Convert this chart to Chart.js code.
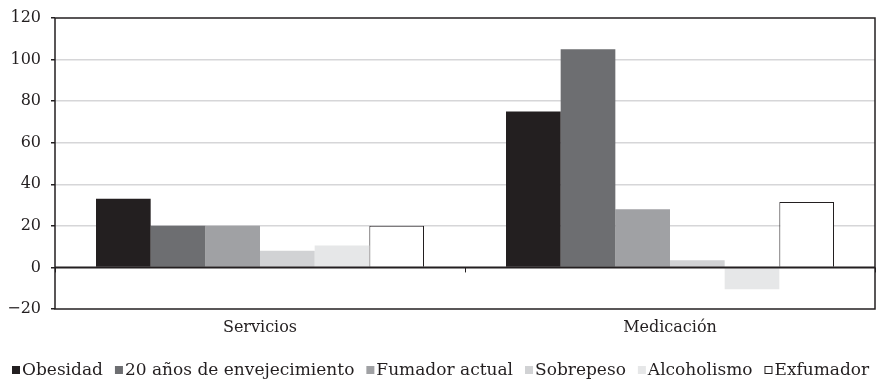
<!DOCTYPE html>
<html>
<head>
<meta charset="utf-8">
<script src="https://cdn.jsdelivr.net/npm/chart.js@4.4.0/dist/chart.umd.min.js"></script>
<style>
  html, body { margin: 0; padding: 0; background: #fff; }
  #wrap { width: 879px; height: 380px; }
</style>
</head>
<body>
<div id="wrap"><canvas id="chart"></canvas></div>
<script>
// data
const categories = ['Servicios', 'Medicación'];
const seriesNames = ['Obesidad', '20 años de envejecimiento', 'Fumador actual', 'Sobrepeso', 'Alcoholismo', 'Exfumador'];
const obesidad = [33, 75];
const envejecimiento = [20, 105];
const fumadorActual = [20, 28];
const sobrepeso = [8, 3.5];
const alcoholismo = [10.5, -10.5];
const exfumador = [20, 31.5];
const yTicks = [-20, 0, 20, 40, 60, 80, 100, 120];

const fills = ['#231f20', '#6d6e71', '#a0a1a4', '#d1d2d4', '#e6e7e8', '#ffffff'];
const seriesValues = [obesidad, envejecimiento, fumadorActual, sobrepeso, alcoholismo, exfumador];

const ink = '#231f20';
const serif = "'DejaVu Serif', 'Liberation Serif', serif";

// frame, zero line and category ticks drawn over the bars
const framePlugin = {
    id: 'frame',
    afterDatasetsDraw(chart) {
        const { ctx, chartArea: a, scales } = chart;
        const y0 = scales.y.getPixelForValue(0);
        ctx.save();
        ctx.strokeStyle = ink;
        ctx.lineWidth = 2;
        ctx.beginPath();
        ctx.moveTo(a.left, y0);
        ctx.lineTo(a.right, y0);
        ctx.stroke();
        // ticks at category boundaries
        ctx.lineWidth = 1;
        const step = (a.right - a.left) / categories.length;
        for (let i = 0; i <= categories.length; i++) {
            const x = Math.round(a.left + step * i) + 0.5;
            ctx.beginPath();
            ctx.moveTo(x, y0);
            ctx.lineTo(x, y0 + 5);
            ctx.stroke();
        }
        ctx.lineWidth = 1.5;
        ctx.strokeRect(a.left, a.top, a.right - a.left, a.bottom - a.top);
        ctx.restore();
    }
};

// legend with tight box-to-text spacing, as in the original
const legendPlugin = {
    id: 'tightLegend',
    afterDraw(chart) {
        const { ctx } = chart;
        const box = 8, boxGap = 2, itemGap = 12;
        ctx.save();
        ctx.font = '17px ' + serif;
        ctx.textBaseline = 'middle';
        const items = chart.data.datasets.map(ds => ({ ds, w: ctx.measureText(ds.label).width }));
        const total = items.reduce((s, it) => s + box + boxGap + it.w, 0) + itemGap * (items.length - 1);
        let x = Math.round(441 - total / 2);
        const y = 370;
        items.forEach(({ ds, w }) => {
            ctx.fillStyle = ds.backgroundColor;
            ctx.fillRect(x, y - box / 2, box, box);
            if (ds.borderWidth) {
                ctx.strokeStyle = ds.borderColor;
                ctx.lineWidth = 1;
                ctx.strokeRect(x + 0.5, y - box / 2 + 0.5, box - 1, box - 1);
            }
            x += box + boxGap;
            ctx.fillStyle = ink;
            ctx.fillText(ds.label, x, y + 1);
            x += w + itemGap;
        });
        ctx.restore();
    }
};

const ctx = document.getElementById('chart').getContext('2d');
new Chart(ctx, {
    type: 'bar',
    data: {
        labels: categories,
        datasets: seriesNames.map((name, i) => ({
            label: name,
            data: seriesValues[i],
            backgroundColor: fills[i],
            borderColor: i === 5 ? ink : fills[i],
            borderWidth: i === 5 ? 1 : 0,
            categoryPercentage: 0.8,
            barPercentage: 1.0
        }))
    },
    options: {
        responsive: true,
        maintainAspectRatio: false,
        animation: false,
        layout: { padding: { top: 0, right: 4, left: 0, bottom: 37 } },
        plugins: {
            legend: { display: false },
            tooltip: { enabled: false }
        },
        scales: {
            x: {
                grid: { display: false, drawTicks: false },
                border: { display: false },
                ticks: { color: ink, font: { family: serif, size: 16 }, padding: 9 },
                afterFit(scale) { scale.height = 34; }
            },
            y: {
                min: -20,
                max: 120,
                afterBuildTicks(scale) { scale.ticks = yTicks.map(v => ({ value: v })); },
                grid: {
                    color: c => (c.tick.value === 0 || c.tick.value === 120 || c.tick.value === -20) ? 'rgba(0,0,0,0)' : '#d6d6d8',
                    lineWidth: 1.5,
                    drawTicks: true,
                    tickLength: 4,
                    tickColor: ink
                },
                border: { display: false },
                ticks: {
                    color: ink,
                    font: { family: serif, size: 16, lineHeight: 1.0 },
                    padding: 10,
                    callback: v => v < 0 ? '\u2212' + Math.abs(v) : String(v)
                },
                afterFit(scale) { scale.width = 55; }
            }
        }
    },
    plugins: [framePlugin, legendPlugin]
});
</script>
</body>
</html>
